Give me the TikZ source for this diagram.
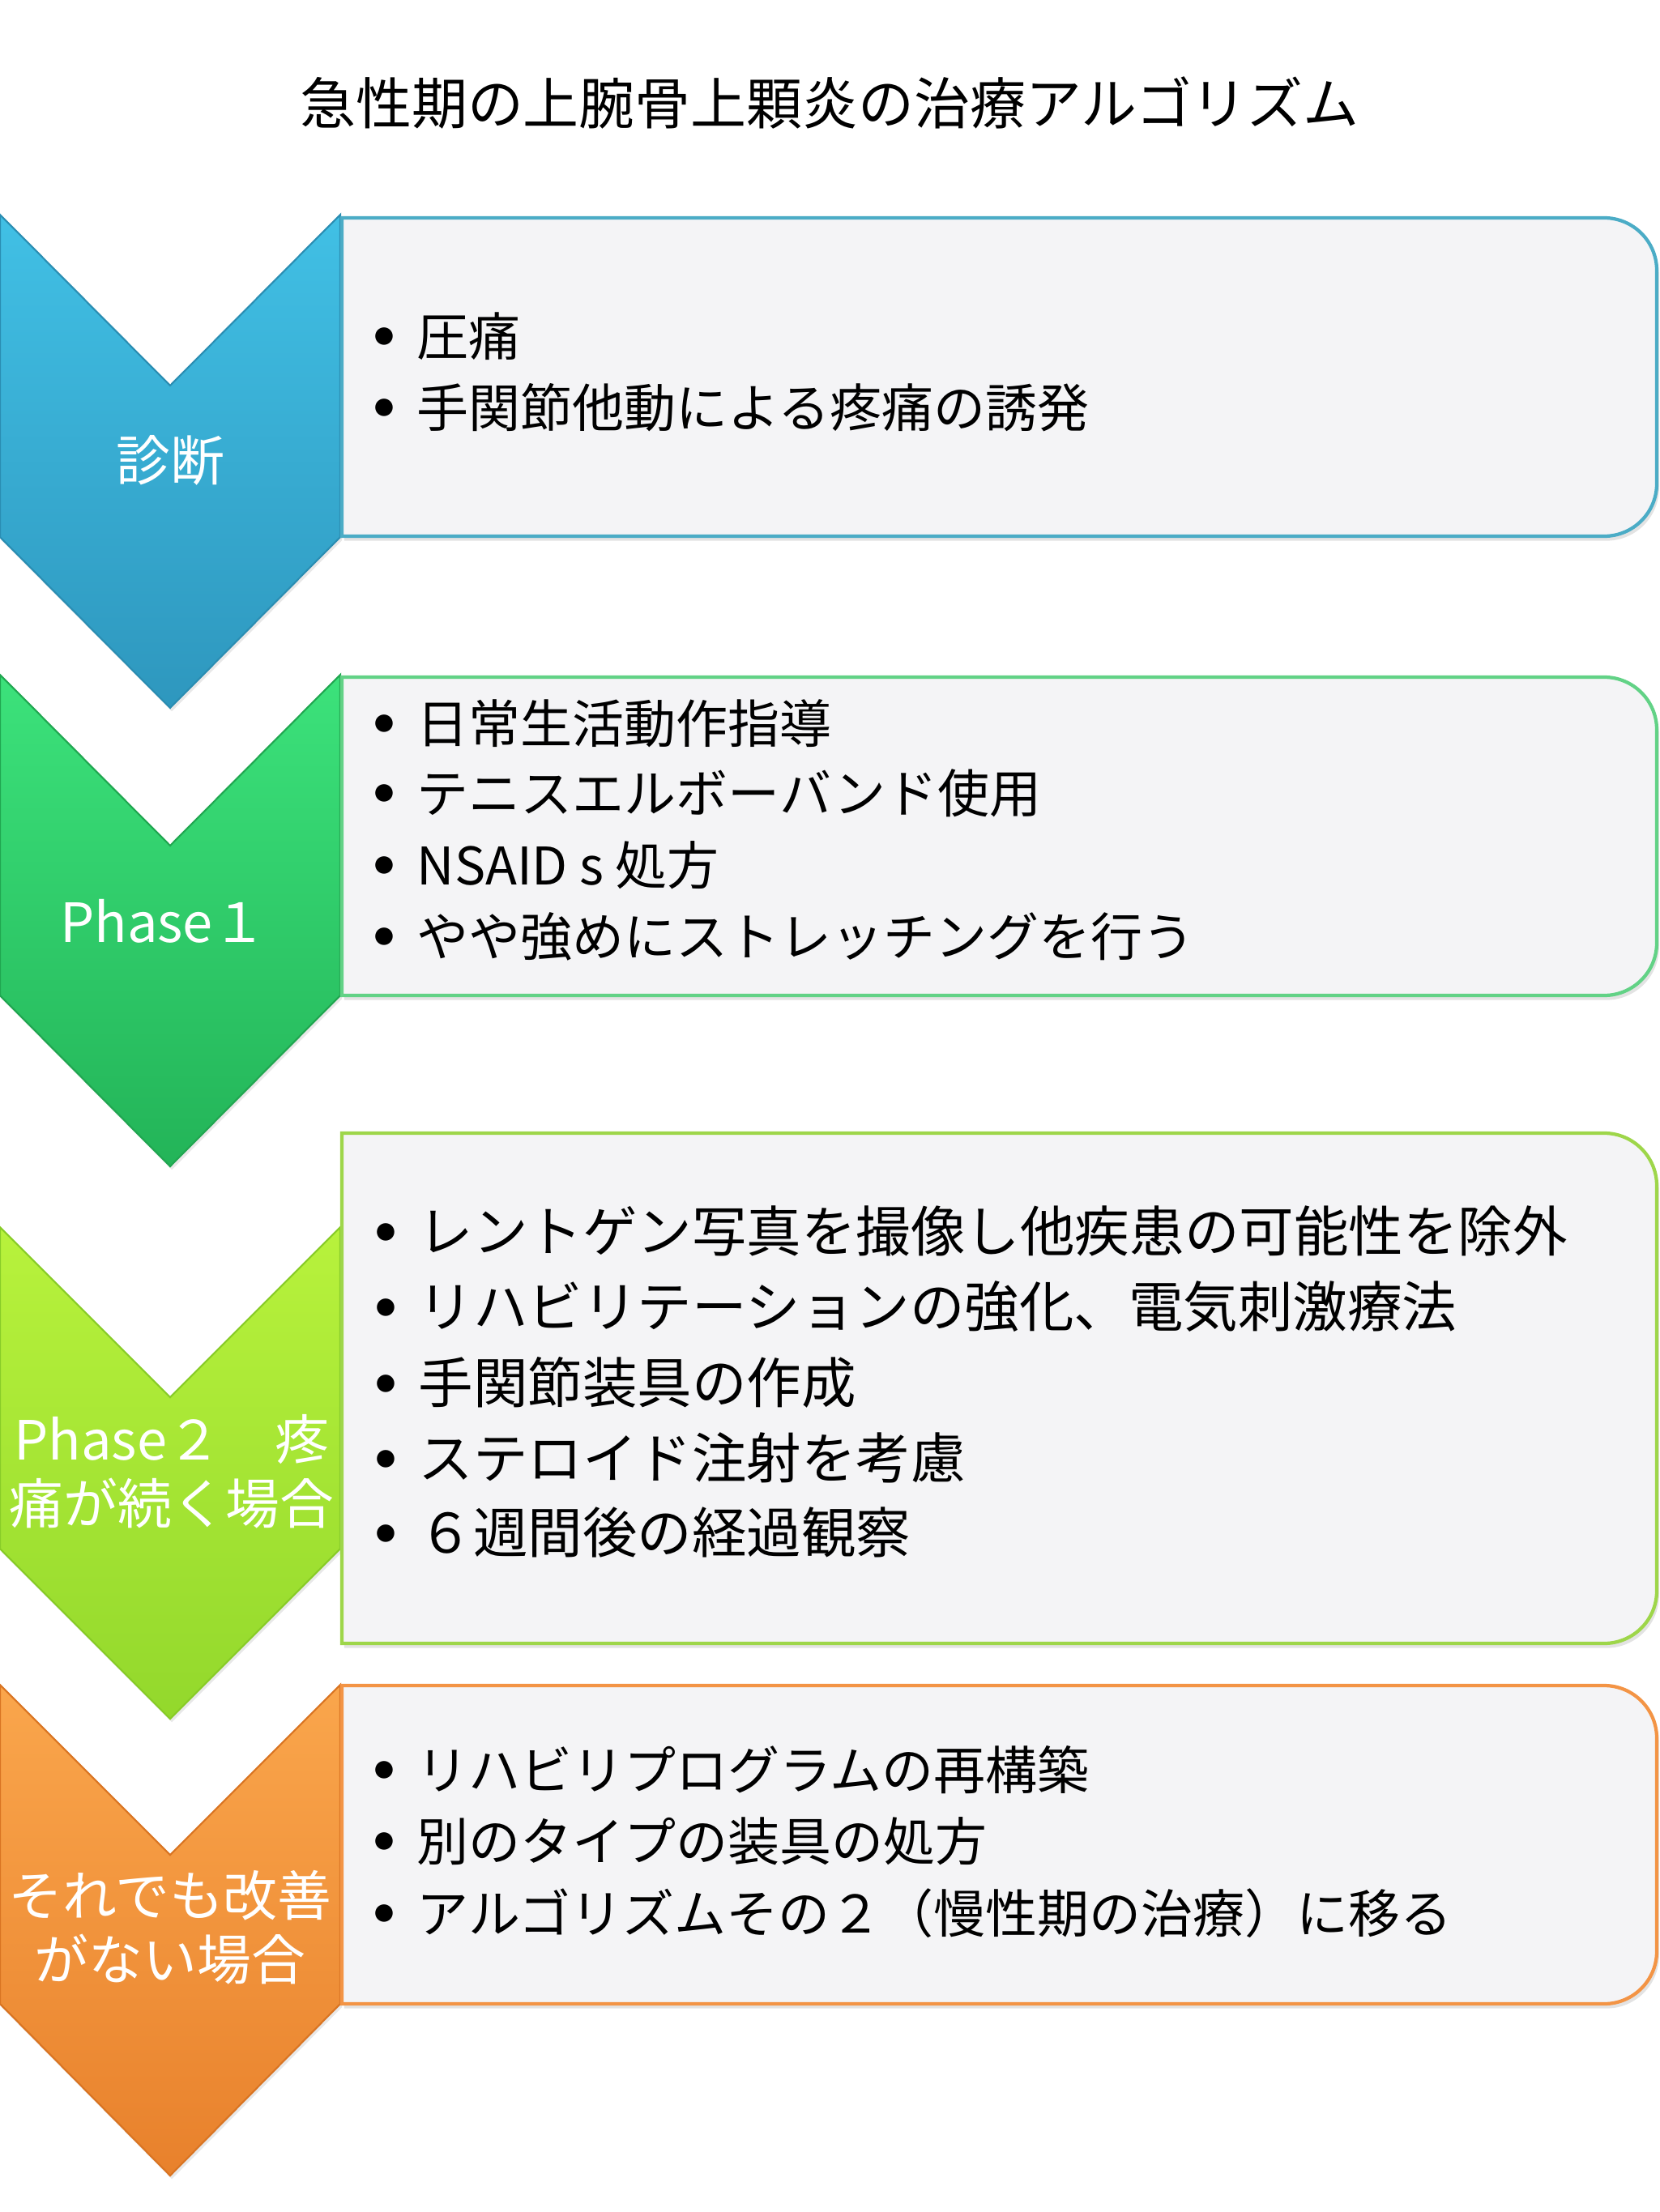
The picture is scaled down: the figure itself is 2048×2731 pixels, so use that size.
\documentclass[tikz,border=0pt]{standalone}
\usepackage{fontspec}
\setmainfont{Noto Sans CJK JP}
\usetikzlibrary{shadows}
\definecolor{cAtop}{HTML}{41C0E5}
\definecolor{cAbot}{HTML}{2E97BE}
\definecolor{cAln}{HTML}{2A8DB2}
\definecolor{bAln}{HTML}{4BACC6}
\definecolor{cBtop}{HTML}{3CE27B}
\definecolor{cBbot}{HTML}{23B458}
\definecolor{cBln}{HTML}{20A650}
\definecolor{bBln}{HTML}{62D286}
\definecolor{cCtop}{HTML}{B8F23C}
\definecolor{cCbot}{HTML}{93D82C}
\definecolor{cCln}{HTML}{88CC28}
\definecolor{bCln}{HTML}{9ED64A}
\definecolor{cDtop}{HTML}{FAA64C}
\definecolor{cDbot}{HTML}{E8812C}
\definecolor{cDln}{HTML}{D97422}
\definecolor{bDln}{HTML}{F39445}
\definecolor{boxfill}{HTML}{F4F4F6}
\newcommand\bul{\makebox[0.52cm][l]{\raisebox{4.3pt}{\fontsize{6.8pt}{7pt}\selectfont ●}}}
\begin{document}
\begin{tikzpicture}[x=0.01cm,y=0.01cm,
  chevron/.style n args={3}{top color=#1,bottom color=#2,draw=#3,line width=0.6pt,
    drop shadow={opacity=0.18,shadow xshift=0.6pt,shadow yshift=-1.2pt}},
  infobox/.style={draw=#1,line width=1.2pt,fill=boxfill,
    drop shadow={opacity=0.22,shadow xshift=0.8pt,shadow yshift=-1.6pt}},
  titletext/.style={inner sep=0,font=\fontsize{19.6pt}{24pt}\selectfont},
  label/.style={inner sep=0,text=white,align=center,
    font=\fontsize{19pt}{22.5pt}\selectfont},
  item/.style={anchor=west,inner sep=0,text height=0.85em,text depth=0.1em,
    font=\fontsize{18.2pt}{22pt}\selectfont},
  itemb/.style={item,font=\fontsize{19.2pt}{23pt}\selectfont}]
\useasboundingbox (0,0) rectangle (2048,-2731);
\fill[white] (0,0) rectangle (2048,-2731);

\node[titletext] (title) at (1024,-127) {急性期の上腕骨上顆炎の治療アルゴリズム};

% chevrons
\path[chevron={cAtop}{cAbot}{cAln}] (0,-265) -- (210,-476) -- (420,-265) -- (420,-663) -- (210,-874) -- (0,-663) -- cycle;
\path[chevron={cBtop}{cBbot}{cBln}] (0,-833) -- (210,-1044) -- (420,-833) -- (420,-1229) -- (210,-1440) -- (0,-1229) -- cycle;
\path[chevron={cCtop}{cCbot}{cCln}] (0,-1515) -- (210,-1725) -- (420,-1515) -- (420,-1912) -- (210,-2122) -- (0,-1912) -- cycle;
\path[chevron={cDtop}{cDbot}{cDln}] (0,-2080) -- (210,-2290) -- (420,-2080) -- (420,-2474) -- (210,-2686) -- (0,-2474) -- cycle;

% boxes
\path[infobox=bAln] (422,-269) -- (1980,-269) arc[start angle=90,end angle=0,radius=65] -- (2045,-597) arc[start angle=0,end angle=-90,radius=65] -- (422,-662) -- cycle;
\path[infobox=bBln] (422,-836) -- (1980,-836) arc[start angle=90,end angle=0,radius=65] -- (2045,-1164) arc[start angle=0,end angle=-90,radius=65] -- (422,-1229) -- cycle;
\path[infobox=bCln] (422,-1399) -- (1980,-1399) arc[start angle=90,end angle=0,radius=65] -- (2045,-1964) arc[start angle=0,end angle=-90,radius=65] -- (422,-2029) -- cycle;
\path[infobox=bDln] (422,-2081) -- (1980,-2081) arc[start angle=90,end angle=0,radius=65] -- (2045,-2409) arc[start angle=0,end angle=-90,radius=65] -- (422,-2474) -- cycle;

% chevron labels
\node[label] (lab1) at (210,-568) {診断};
\node[label] (lab2) at (202,-1137) {Phase１};
\node[label] (lab3) at (212,-1817) {Phase２　疼\\痛が続く場合};
\node[label] (lab4) at (210,-2380) {それでも改善\\がない場合};

% box 1
\node[item] (a1) at (462,-426) {\bul 圧痛};
\node[item] (a2) at (462,-514) {\bul 手関節他動による疼痛の誘発};
% box 2
\node[item] (b1) at (462,-904) {\bul 日常生活動作指導};
\node[item] (b2) at (462,-990) {\bul テニスエルボーバンド使用};
\node[item] (b3) at (462,-1079) {\bul NSAID s 処方};
\node[item] (b4) at (462,-1167) {\bul やや強めにストレッチングを行う};
% box 3
\node[itemb] (c1) at (464,-1532) {\bul レントゲン写真を撮像し他疾患の可能性を除外};
\node[itemb] (c2) at (464,-1625) {\bul リハビリテーションの強化、電気刺激療法};
\node[itemb] (c3) at (464,-1719) {\bul 手関節装具の作成};
\node[itemb] (c4) at (464,-1812) {\bul ステロイド注射を考慮};
\node[itemb] (c5) at (464,-1904) {\bul ６週間後の経過観察};
% box 4
\node[item] (d1) at (462,-2196) {\bul リハビリプログラムの再構築};
\node[item] (d2) at (462,-2284) {\bul 別のタイプの装具の処方};
\node[item] (d3) at (462,-2373) {\bul アルゴリズムその２（慢性期の治療）に移る};
\end{tikzpicture}
\end{document}
